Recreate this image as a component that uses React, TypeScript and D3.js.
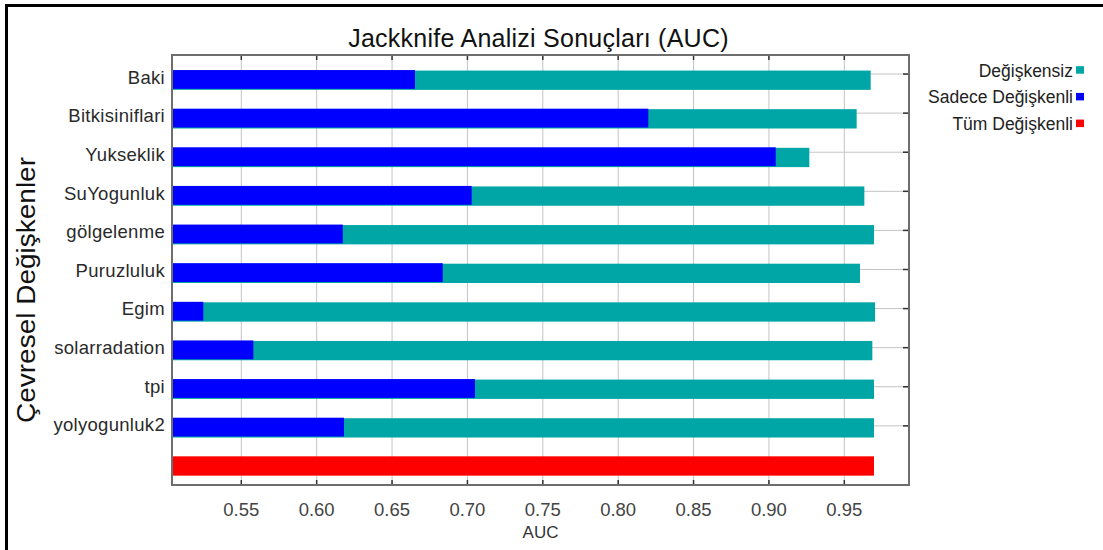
import React from "react";
import * as d3 from "d3";

const categories = ["Baki", "Bitkisiniflari", "Yukseklik", "SuYogunluk", "gölgelenme", "Puruzluluk", "Egim", "solarradation", "tpi", "yolyogunluk2"];
const withoutVariable = [0.9675, 0.9582, 0.9268, 0.9633, 0.9697, 0.9604, 0.9704, 0.9686, 0.9697, 0.9697];
const onlyVariable = [0.6652, 0.82, 0.9045, 0.7028, 0.6173, 0.6836, 0.5248, 0.558, 0.705, 0.6181];
const allVariables = 0.9697;
const xTickValues = [0.55, 0.6, 0.65, 0.7, 0.75, 0.8, 0.85, 0.9, 0.95];
const legendItems = [
  { label: "Değişkensiz", color: "#00a6a6" },
  { label: "Sadece Değişkenli", color: "#0000ff" },
  { label: "Tüm Değişkenli", color: "#ff0000" },
];

const TEAL = "#00a6a6";
const BLUE = "#0000ff";
const RED = "#ff0000";
const FONT = "'Liberation Sans', Arial, Helvetica, sans-serif";

export default function App() {
  const W = 1103, H = 550;
  const left = 172, right = 909, top = 55, bottom = 485;
  const allKey = "__all__";
  const domainKeys = [...categories, allKey];

  const x = d3.scaleLinear().domain([0.50403, 0.99292]).range([left, right]);
  const yBar = d3.scaleBand().domain(domainKeys).range([60.4, 485.3]).paddingInner(0.5).paddingOuter(0.25);
  const yTick = d3.scaleBand().domain(domainKeys).range([top, bottom]);
  const bw = yBar.bandwidth();

  return (
    <svg width={W} height={H} style={{ position: "absolute", left: 0, top: 0, background: "#fff" }} fontFamily={FONT}>
      <rect x={0} y={0} width={W} height={H} fill="#fff" />
      <rect x={6.5} y={5.5} width={1300} height={700} fill="none" stroke="#000" strokeWidth={3} />

      {/* title */}
      <text x={538.5} y={47} textAnchor="middle" fontSize={25} letterSpacing={0.25} fill="#111">Jackknife Analizi Sonuçları (AUC)</text>

      {/* grid */}
      {xTickValues.map((v) => (
        <line key={"vg" + v} x1={x(v)} x2={x(v)} y1={top} y2={bottom} stroke="#c4c4c4" strokeWidth={1} />
      ))}
      {categories.map((c) => {
        const cy = (yTick(c) as number) + yTick.bandwidth() / 2 - 0.5;
        return <line key={"hg" + c} x1={left} x2={right} y1={cy} y2={cy} stroke="#c4c4c4" strokeWidth={1} />;
      })}

      {/* bars */}
      {categories.map((c, i) => {
        const y0 = yBar(c) as number;
        return (
          <g key={"bar" + c}>
            <rect x={x.range()[0]} y={y0 + 0.5} width={x(withoutVariable[i]) - x.range()[0]} height={bw} fill={TEAL} />
            <rect x={x.range()[0]} y={y0} width={x(onlyVariable[i]) - x.range()[0]} height={bw - 0.5} fill={BLUE} />
          </g>
        );
      })}
      <rect x={x.range()[0]} y={yBar(allKey) as number} width={x(allVariables) - x.range()[0]} height={bw} fill={RED} />

      {/* ticks */}
      {xTickValues.map((v) => (
        <g key={"t" + v}>
          <line x1={x(v)} x2={x(v)} y1={top} y2={top + 5} stroke="#333" strokeWidth={1.5} />
          <line x1={x(v)} x2={x(v)} y1={bottom} y2={bottom - 5} stroke="#333" strokeWidth={1.5} />
          <text x={x(v)} y={516} textAnchor="middle" fontSize={18.5} fill="#444">{d3.format(".2f")(v)}</text>
        </g>
      ))}
      {categories.map((c) => {
        const cy = (yTick(c) as number) + yTick.bandwidth() / 2 - 0.5;
        return <line key={"rt" + c} x1={right - 6} x2={right} y1={cy} y2={cy} stroke="#333" strokeWidth={1.5} />;
      })}

      {/* frame */}
      <rect x={left} y={top} width={right - left} height={bottom - top} fill="none" stroke="#6e6e6e" strokeWidth={2} />

      {/* category labels */}
      {categories.map((c) => {
        const cy = (yBar(c) as number) + bw / 2;
        return (
          <text key={"lab" + c} x={165} y={cy + 4} textAnchor="end" fontSize={18.5} letterSpacing={0.3} fill="#2a2a2a">{c}</text>
        );
      })}

      {/* axis titles */}
      <text x={(left + right) / 2} y={538} textAnchor="middle" fontSize={17} fill="#333">AUC</text>
      <text transform="translate(35,290) rotate(-90)" textAnchor="middle" fontSize={25} textLength={266} lengthAdjust="spacingAndGlyphs" fill="#111">Çevresel Değişkenler</text>

      {/* legend */}
      {legendItems.map((d, i) => (
        <g key={"lg" + d.label} transform={`translate(0, ${76.7 + i * 26.7})`}>
          <text x={1073} y={0} textAnchor="end" fontSize={17.5} fill="#222">{d.label}</text>
          <rect x={1076} y={-10.5} width={8} height={7.5} fill={d.color} />
        </g>
      ))}
    </svg>
  );
}
